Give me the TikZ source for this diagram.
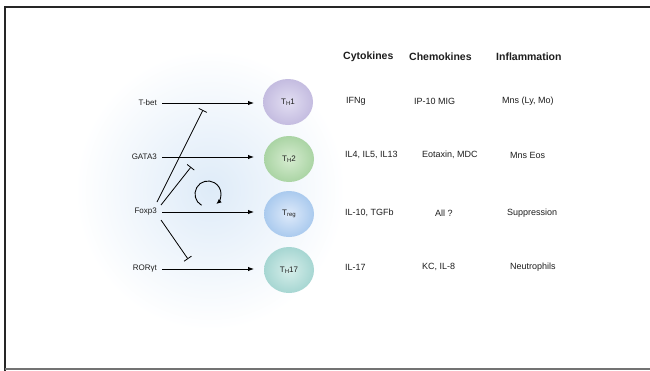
\documentclass[tikz,border=0pt]{standalone}
\usepackage{fontspec}
\setmainfont{Liberation Sans}
\usetikzlibrary{arrows.meta,shapes.geometric}
\definecolor{txt}{RGB}{30,30,30}
\definecolor{glow}{RGB}{222,235,248}
\definecolor{cthone}{RGB}{196,188,224}
\definecolor{cthonein}{RGB}{226,222,242}
\definecolor{cthtwo}{RGB}{170,212,164}
\definecolor{cthtwoin}{RGB}{214,236,208}
\definecolor{ctreg}{RGB}{170,202,238}
\definecolor{ctregin}{RGB}{222,234,250}
\definecolor{cthsev}{RGB}{166,214,210}
\definecolor{cthsevin}{RGB}{214,238,234}
\newcommand{\subtxt}[1]{\raisebox{-0.25ex}{\fontsize{6}{6}\selectfont #1}}
\tikzset{
  tf/.style={text=txt, inner sep=0pt},
  lbl/.style={tf, font=\fontsize{8}{9}\selectfont, anchor=east},
  hdr/.style={tf, font=\fontsize{10.5}{12}\selectfont\bfseries, anchor=west},
  cell/.style={tf, font=\fontsize{9}{10}\selectfont, anchor=west},
  tcell/.style={ellipse, minimum width=50pt, minimum height=46pt, inner sep=0pt, text=txt, font=\fontsize{8}{9}\selectfont},
  act/.style={line width=0.9pt, -{Latex[length=6pt,width=4.5pt]}},
  inh/.style={line width=0.8pt, -{Bar[width=9pt,line width=0.8pt]}},
}
\begin{document}
\begin{tikzpicture}[x=1pt,y=-1pt]
\useasboundingbox (0,0) rectangle (650,370);
\fill[white] (0,0) rectangle (650,370);
% glow
\shade[inner color=glow, outer color=white] (210,190) ellipse[x radius=135, y radius=140];
% frame
\draw[line width=2pt, black!85] (651,7) -- (5,7) -- (5,371);
\draw[line width=1.2pt, black!55] (5,369) -- (651,369);
% cells
\node[tcell, shading=radial, inner color=cthonein, outer color=cthone] (th1) at (288,102) {T\subtxt{H}1};
\node[tcell, shading=radial, inner color=cthtwoin, outer color=cthtwo] (th2) at (289,159) {T\subtxt{H}2};
\node[tcell, shading=radial, inner color=ctregin, outer color=ctreg] (treg) at (289,214) {T\subtxt{reg}};
\node[tcell, shading=radial, inner color=cthsevin, outer color=cthsev] (th17) at (289,270) {T\subtxt{H}17};
% labels
\node[lbl] (tbet) at (157,103) {T-bet};
\node[lbl] (gata) at (157,157) {GATA3};
\node[lbl] (foxp) at (157,212) {Foxp3};
\node[lbl] (ror) at (157,269) {RORγt};
% activating arrows
\coordinate (e1) at (254,103);
\coordinate (e2) at (254,157);
\coordinate (e3) at (254,212);
\coordinate (e4) at (254,269);
\draw[act] ([xshift=5pt]tbet.east) -- (e1);
\draw[act] ([xshift=5pt]gata.east) -- (e2);
\draw[act] ([xshift=5pt]foxp.east) -- (e3);
\draw[act] ([xshift=5pt]ror.east) -- (e4);
% inhibitory lines
\coordinate (s1) at (157,202);
\coordinate (t1) at (203,110);
\coordinate (s2) at (161,205);
\coordinate (t2) at (191,167);
\coordinate (s3) at (161,220);
\coordinate (t3) at (188,259);
\draw[inh] (s1) -- (t1);
\draw[inh] (s2) -- (t2);
\draw[inh] (s3) -- (t3);
% autoregulation loop
\coordinate (loopc) at (208,194);
\draw[line width=0.9pt, -{Latex[length=5pt,width=4.5pt]}] (loopc) ++(120:13) arc[start angle=120, end angle=410, radius=13];
% headers
\node[hdr] (hcyt) at (343,57) {Cytokines};
\node[hdr] (hche) at (409,57) {Chemokines};
\node[hdr] (hinf) at (496,57) {Inflammation};
% rows
\node[cell] at (346,101) {IFNg};
\node[cell] at (414,101) {IP-10 MIG};
\node[cell] at (502,101) {Mns (Ly, Mo)};
\node[cell] at (345,155) {IL4, IL5, IL13};
\node[cell] at (422,155) {Eotaxin, MDC};
\node[cell] at (510,155) {Mns Eos};
\node[cell] at (345,213) {IL-10, TGFb};
\node[cell] at (435,213) {All ?};
\node[cell] at (507,213) {Suppression};
\node[cell] at (345,267) {IL-17};
\node[cell] at (422,267) {KC, IL-8};
\node[cell] at (510,267) {Neutrophils};
\end{tikzpicture}
\end{document}
